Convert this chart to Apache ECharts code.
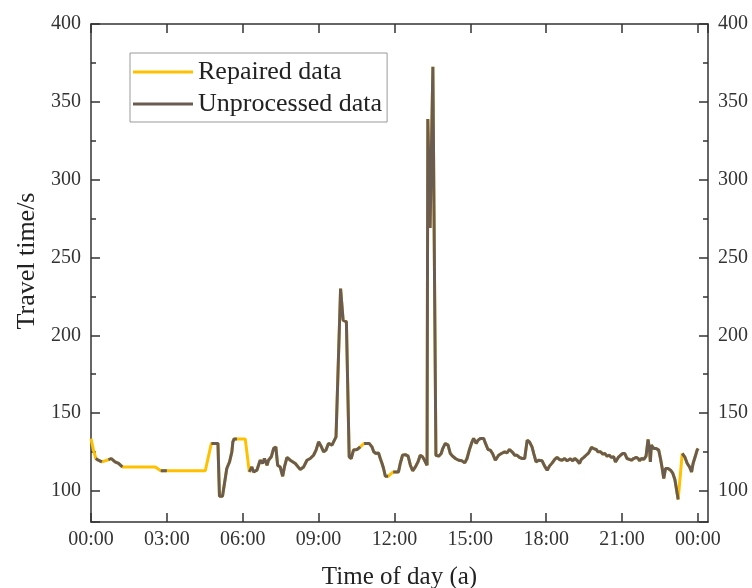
<!DOCTYPE html>
<html>
<head>
<meta charset="utf-8">
<script src="https://cdn.jsdelivr.net/npm/echarts@6/dist/echarts.min.js"></script>
<style>html,body{margin:0;padding:0;background:#fff;}#c{width:752px;height:588px;}</style>
</head>
<body>
<div id="c"></div>
<script>
// time of day in hours
var times = [
  0, 0.10, 0.19, 0.29, 0.36, 0.43, 0.49, 0.69, 0.80, 0.95, 1.09, 1.24, 2.54, 2.76, 3.00, 4.52, 4.76, 5.02, 5.08, 5.20, 5.37, 5.48, 5.57, 5.61, 5.66, 5.77, 6.10,
  6.26, 6.36, 6.43, 6.56, 6.63, 6.69, 6.78, 6.86, 6.96, 7.02, 7.13, 7.22, 7.31, 7.38, 7.48, 7.58, 7.65, 7.75, 7.88, 8.08, 8.27, 8.41, 8.54, 8.67, 8.80, 8.90, 9.00, 9.11, 9.20, 9.29, 9.39, 9.53, 9.59, 9.69,
  9.87, 9.97, 10.10, 10.21, 10.29, 10.38, 10.52, 10.65, 10.72, 10.80, 11.00, 11.11, 11.18, 11.27, 11.37, 11.44, 11.51, 11.57, 11.64, 11.75, 11.85, 11.95, 12.16, 12.23, 12.32, 12.43, 12.54, 12.63, 12.72, 12.83, 12.93, 13.02, 13.11, 13.19, 13.29,
  13.32, 13.41, 13.52, 13.64, 13.75, 13.85, 13.91, 14.01, 14.12, 14.21, 14.30, 14.41, 14.54, 14.67, 14.78, 14.87, 14.96, 15.07, 15.13, 15.23, 15.31, 15.40, 15.53, 15.60, 15.70, 15.79, 15.88, 15.99, 16.06, 16.12, 16.23, 16.36, 16.45, 16.55, 16.65, 16.76, 16.85, 16.94, 17.05, 17.15, 17.25, 17.34, 17.44, 17.51, 17.60, 17.70, 17.84, 17.94, 18.04, 18.13, 18.24, 18.34, 18.43, 18.52, 18.63, 18.73, 18.83, 18.96,
  19.05, 19.13, 19.22, 19.32, 19.39, 19.49, 19.58, 19.68, 19.79, 19.88, 19.98, 20.05, 20.15, 20.24, 20.32, 20.41, 20.50, 20.58, 20.67, 20.74, 20.85, 20.94, 21.03, 21.11, 21.20, 21.29, 21.37, 21.46, 21.56, 21.64, 21.69, 21.77, 21.86, 21.95, 22.03, 22.09, 22.12, 22.16, 22.26, 22.35, 22.45, 22.52, 22.59, 22.65, 22.72, 22.82, 22.92, 23.01, 23.09, 23.15, 23.22, 23.30, 23.38, 23.48, 23.58, 23.67, 23.75, 23.81, 23.91, 23.97, 24.01
];
// repaired (complete) travel time, s
var repaired = [
  133.6, 126.2, 120.8, 119.7, 119.7, 118.6, 117.6, 120.0, 120.8, 118.6, 117.6, 115.4, 115.4, 113.0, 112.9, 112.9, 130.5, 130.5, 96.5, 96.5, 114.4, 118.7, 125.1, 131.5, 133.4, 133.4, 133.4,
  112.2, 115.4, 112.2, 113.3, 114.4, 119.7, 117.6, 120.8, 116.5, 119.7, 121.9, 127.2, 128.3, 116.5, 115.4, 109.4, 115.4, 121.5, 119.7, 117.6, 113.8, 115.4, 119.7, 120.8, 122.9, 126.2, 131.5, 128.3, 125.1, 126.2, 130.5, 129.4, 130.5, 134.7,
  230, 209.7, 208.6, 121.9, 120.8, 126.2, 126.6, 128.3, 128.9, 130.5, 130.5, 128.3, 125.1, 124.0, 124.4, 120.8, 117.6, 114.4, 109.4, 109.4, 110.8, 112.2, 112.2, 117.6, 122.9, 123.3, 122.3, 116.5, 112.9, 115.4, 118.6, 122.9, 121.9, 119.7, 116.5,
  339, 269, 372.5, 122.9, 122.3, 124.0, 127.2, 130.5, 129.4, 124.0, 122.3, 120.8, 119.7, 119.3, 118.0, 120.8, 126.2, 131.5, 133.7, 130.5, 132.6, 133.7, 133.7, 130.5, 126.6, 126.2, 124.0, 119.7, 119.7, 122.9, 124.0, 125.1, 124.4, 126.6, 125.1, 122.9, 122.9, 121.5, 120.8, 120.8, 132.6, 131.5, 128.3, 124.0, 118.6, 119.7, 119.3, 115.9, 113.3, 115.9, 118.0, 120.2, 121.5, 120.2, 119.7, 120.8, 119.3, 120.6,
  119.3, 120.8, 119.7, 117.6, 120.2, 121.5, 122.9, 124.4, 127.9, 127.2, 126.6, 125.1, 125.1, 123.6, 124.0, 122.3, 122.9, 121.5, 121.9, 118.6, 121.5, 122.9, 124.0, 124.0, 120.8, 120.2, 119.7, 120.8, 121.5, 120.8, 119.3, 120.8, 120.2, 122.3, 133.0, 126.2, 118.6, 129.4, 127.2, 127.2, 126.2, 120.8, 114.4, 108.0, 114.4, 114.4, 113.3, 111.2, 107.3, 106.9, 94.5, 109.0, 124.0, 121.9, 117.6, 115.4, 112.2, 117.6, 122.9, 126.2, 127.2
];
// times at which the raw (unprocessed) record is missing
var missingTimes = [0, 0.10, 0.49, 2.54, 4.52, 6.10, 10.72, 11.85, 23.30];

var repairedData = times.map(function (t, i) { return [t, repaired[i]]; });
var unprocessedData = times.map(function (t, i) {
  return [t, missingTimes.indexOf(t) >= 0 ? null : repaired[i]];
});

var FONT = 'Liberation Serif';
var AX = '#333';
function xFmt(v) { var h = Math.round(v) % 24; return (h < 10 ? '0' : '') + h + ':00'; }

function yAxisCfg(pos, withName) {
  var a = {
    type: 'value', position: pos, min: 80, max: 400, splitNumber: 6,
    axisLine: { show: true, onZero: false, lineStyle: { color: AX, width: 1.5 } },
    axisTick: { show: true, inside: true, length: 9, lineStyle: { color: AX, width: 1.5 } },
    minorTick: { show: true, splitNumber: 2, length: 5, lineStyle: { color: AX, width: 1.5 } },
    axisLabel: { show: true, margin: 10, showMinLabel: false, fontFamily: FONT, fontSize: 20, color: '#333' },
    splitLine: { show: false }, minorSplitLine: { show: false }
  };
  if (withName) {
    a.name = 'Travel time/s';
    a.nameLocation = 'middle';
    a.nameGap = 50;
    a.nameTextStyle = { fontFamily: FONT, fontSize: 26, color: '#222', padding: [0, 0, 0, 24] };
  }
  return a;
}

var chart = echarts.init(document.getElementById('c'));
chart.setOption({
  animation: false,
  backgroundColor: '#fff',
  grid: { left: 91, right: 44, top: 24, bottom: 66, containLabel: false, outerBoundsMode: 'none' },
  legend: {
    orient: 'vertical', left: 130, top: 53,
    padding: [6, 5, 5, 3], itemGap: 6,
    itemWidth: 60, itemHeight: 3, icon: 'rect',
    borderColor: '#999', borderWidth: 1, borderRadius: 0,
    textStyle: { fontFamily: FONT, fontSize: 26, color: '#222' },
    data: ['Repaired data', 'Unprocessed data']
  },
  xAxis: [{
    type: 'value', position: 'bottom', min: 0, max: 24.4, interval: 3,
    name: 'Time of day (a)', nameLocation: 'middle', nameGap: 43,
    nameTextStyle: { fontFamily: FONT, fontSize: 25, color: '#222' },
    axisLine: { show: true, onZero: false, lineStyle: { color: AX, width: 1.5 } },
    axisTick: { show: true, inside: true, length: 9, lineStyle: { color: AX, width: 1.5 } },
    axisLabel: { show: true, margin: 8, formatter: xFmt, fontFamily: FONT, fontSize: 20, color: '#333', showMaxLabel: false },
    splitLine: { show: false }
  }, {
    type: 'value', position: 'top', min: 0, max: 24.4, interval: 3,
    axisLine: { show: true, onZero: false, lineStyle: { color: AX, width: 1.5 } },
    axisTick: { show: true, inside: true, length: 9, lineStyle: { color: AX, width: 1.5 } },
    axisLabel: { show: false },
    splitLine: { show: false }
  }],
  yAxis: [yAxisCfg('left', true), yAxisCfg('right', false)],
  series: [{
    name: 'Repaired data', type: 'line', xAxisIndex: 0, yAxisIndex: 0,
    data: repairedData, symbol: 'none', showSymbol: false,
    lineStyle: { color: '#FFC000', width: 3 }, itemStyle: { color: '#FFC000' },
    z: 2
  }, {
    name: 'Unprocessed data', type: 'line', xAxisIndex: 0, yAxisIndex: 0,
    data: unprocessedData, symbol: 'none', showSymbol: false, connectNulls: false,
    lineStyle: { color: '#6B5C52', width: 3 }, itemStyle: { color: '#6B5C52' },
    z: 3
  }]
});
</script>
</body>
</html>
